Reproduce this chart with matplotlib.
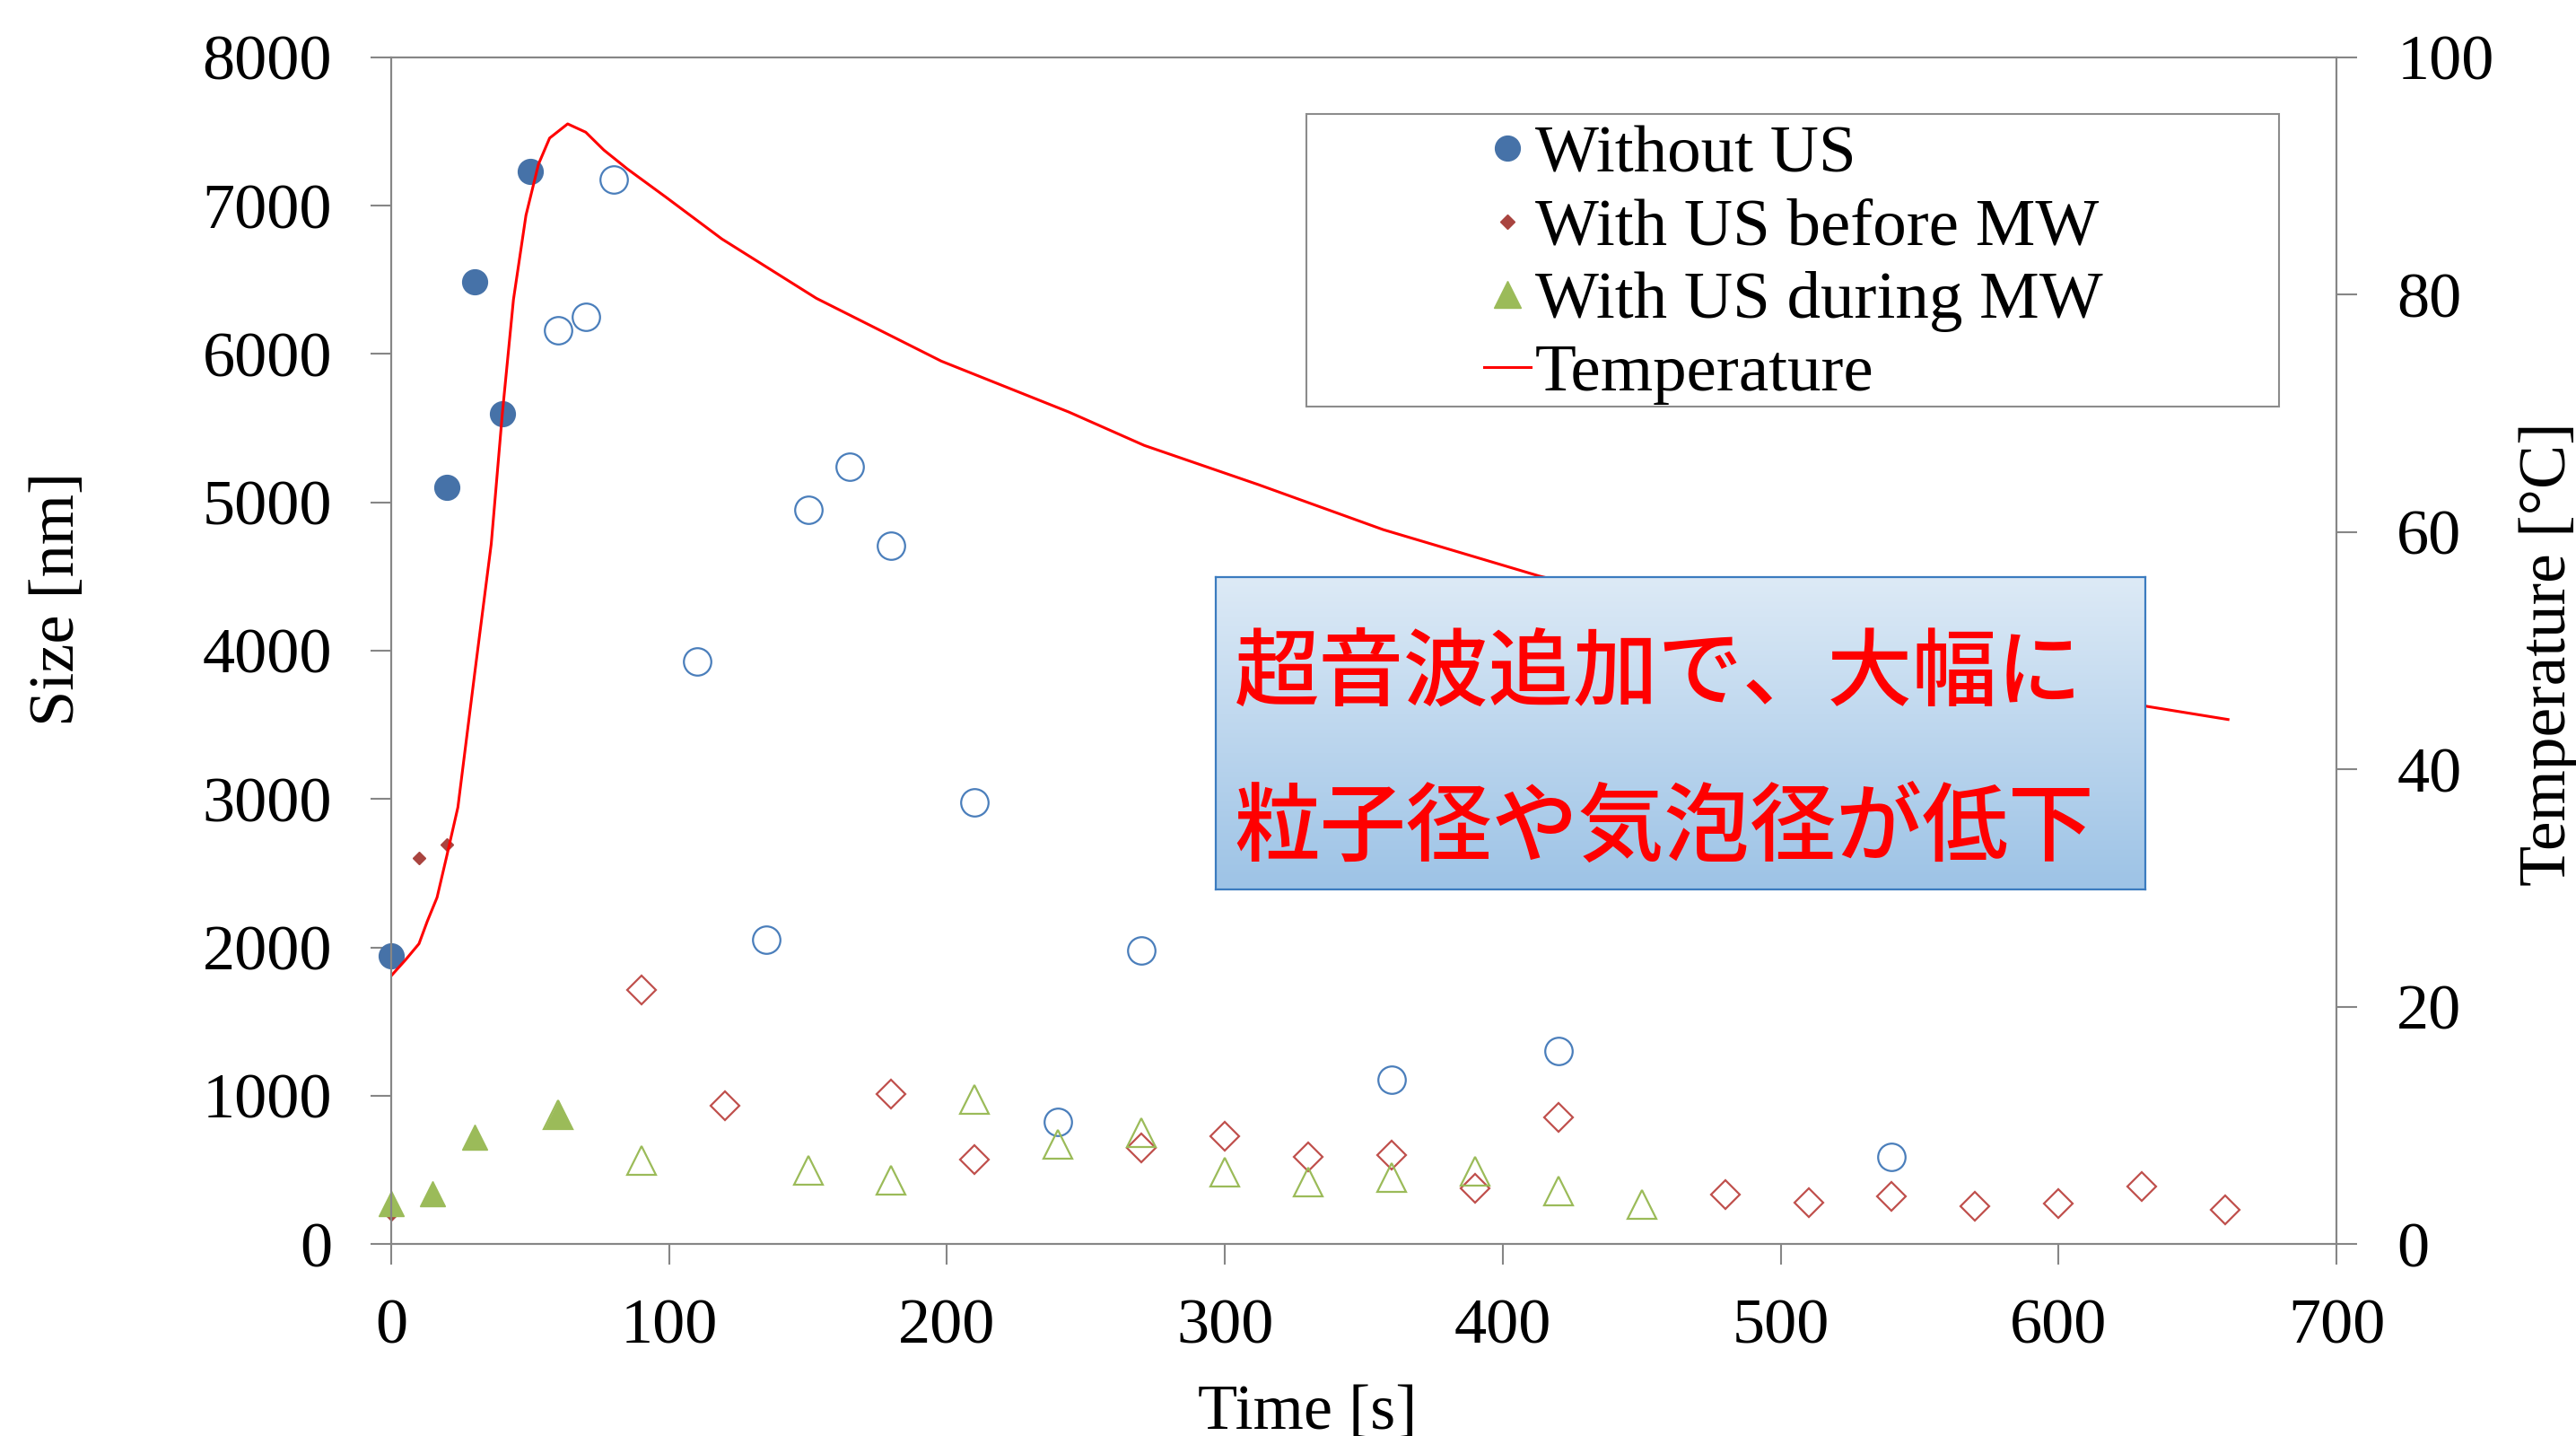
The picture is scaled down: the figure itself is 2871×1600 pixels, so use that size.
import numpy as np
import matplotlib
matplotlib.use("Agg")
import matplotlib.pyplot as plt
from matplotlib.lines import Line2D
from matplotlib.patches import Rectangle
from matplotlib.colors import LinearSegmentedColormap

plt.rcParams['font.family'] = ['Liberation Serif', 'DejaVu Serif']

# --- data ---
# Without US (filled = before MW, open = during/after MW)
without_us_t = [0, 20, 30, 40, 50]
without_us_size = [1940, 5100, 6490, 5600, 7230]
without_us_mw_t = [60, 70, 80, 110, 135, 150, 165, 180, 210, 240, 270, 360, 420, 540]
without_us_mw_size = [6160, 6250, 7180, 3930, 2050, 4950, 5240, 4710, 2980, 820, 1980, 1110, 1300, 590]

# With US before MW
before_t = [0, 10, 20]
before_size = [200, 2600, 2690]
before_mw_t = [90, 120, 180, 210, 270, 300, 330, 360, 390, 420, 480, 510, 540, 570, 600, 630, 660]
before_mw_size = [1710, 930, 1010, 570, 645, 725, 585, 600, 375, 855, 335, 280, 320, 255, 270, 385, 230]

# With US during MW
during_t = [0, 15, 30, 60]
during_size = [270, 340, 720, 870]
during_mw_t = [60, 90, 150, 180, 210, 240, 270, 300, 330, 360, 390, 420, 450]
during_mw_size = [870, 560, 495, 430, 975, 670, 750, 485, 420, 450, 490, 355, 265]

# Temperature curve
temp_t = [0, 5, 10, 13, 16.5, 20, 24, 30, 36, 40, 44, 48.5, 53, 57, 63.5, 70, 76.5, 85,
          99, 119, 153, 198, 244, 271, 312, 357, 413, 450, 500, 550, 600, 632, 661]
temp_c = [22.6, 23.9, 25.3, 27.2, 29.2, 32.7, 36.8, 48, 59, 70, 79.6, 86.7, 91, 93.2, 94.4, 93.7, 92.2, 90.6,
          88.2, 84.7, 79.7, 74.4, 70.1, 67.3, 64.0, 60.2, 56.3, 54.2, 51.6, 49.2, 47.0, 45.3, 44.2]

labels = ['Without US', 'With US before MW', 'With US during MW', 'Temperature']
note_lines = ['超音波追加で、大幅に', '粒子径や気泡径が低下']

# colours
blue_fill = '#4672A8'
blue_edge = '#4A7EBB'
red_fill = '#A9443F'
red_edge = '#C0504D'
green = '#9BBB59'
axis_grey = '#868686'

W, H = 2871, 1600
fig = plt.figure(figsize=(W / 100, H / 100), dpi=100)
ax = fig.add_axes([436 / W, 1 - 1386 / H, (2604 - 436) / W, (1386 - 64) / H])

# open markers first, filled on top
ax.plot(without_us_mw_t, without_us_mw_size, ls='none', marker='o', ms=22, mfc='none', mec=blue_edge, mew=1.6, clip_on=False)
ax.plot(before_mw_t, before_mw_size, ls='none', marker='D', ms=16, mfc='none', mec=red_edge, mew=1.6, clip_on=False)
ax.plot(during_mw_t, during_mw_size, ls='none', marker='^', ms=23, mfc='none', mec=green, mew=1.6, clip_on=False)
ax.plot(without_us_t, without_us_size, ls='none', marker='o', ms=20, mfc=blue_fill, mec=blue_fill, clip_on=False)
ax.plot(before_t, before_size, ls='none', marker='D', ms=7.5, mfc=red_fill, mec=red_fill, clip_on=False)
ax.plot(during_t, during_size, ls='none', marker='^', ms=20, mfc=green, mec=green, clip_on=False)

ax.set_xlim(0, 700)
ax.set_ylim(0, 8000)
ax.set_xticks(np.arange(0, 701, 100))
ax.set_yticks(np.arange(0, 8001, 1000))

ax2 = ax.twinx()
ax2.plot(temp_t, temp_c, color='red', lw=2.2)
ax2.set_ylim(0, 100)
ax2.set_yticks(np.arange(0, 101, 20))

for a in (ax, ax2):
    for s in a.spines.values():
        s.set_color(axis_grey)
        s.set_linewidth(1.5)
ax.tick_params(axis='x', direction='out', length=16.5, width=1.5, color=axis_grey, labelsize=52, pad=27)
ax.tick_params(axis='y', direction='out', length=16.5, width=1.5, color=axis_grey, labelsize=52, pad=31)
ax2.tick_params(axis='y', direction='out', length=16.5, width=1.5, color=axis_grey, labelsize=52, pad=32)

ax.set_xlabel('Time [s]', fontsize=52, va='baseline')
ax.xaxis.set_label_coords(0.471, -0.1558)
ax.set_ylabel('Size [nm]', fontsize=52)
ax.yaxis.set_label_coords(-0.1564, 0.5435)
ax2.set_ylabel('Temperature [°C]', fontsize=53, rotation=90, va='top', rotation_mode='anchor')
ax2.yaxis.set_label_coords(1.094, 0.497)

# legend: frame drawn separately so it can be wider than its content
frame = Rectangle((1456 / W, 1 - 453 / H), (2540 - 1456) / W, (453 - 127) / H,
                  transform=fig.transFigure, facecolor='white', edgecolor='#8C8C8C', lw=1.5, zorder=1)
fig.add_artist(frame)
handles = [
    Line2D([], [], ls='none', marker='o', ms=20, mfc=blue_fill, mec=blue_fill),
    Line2D([], [], ls='none', marker='D', ms=8, mfc=red_fill, mec=red_fill),
    Line2D([], [], ls='none', marker='^', ms=21, mfc=green, mec=green),
    Line2D([], [], color='red', lw=2.2),
]
fig.legend(handles, labels, loc='upper left', bbox_to_anchor=(1654 / W, 1 - 139 / H),
           frameon=False, borderpad=0, borderaxespad=0, handlelength=0.69, handletextpad=0.07,
           labelspacing=0.17, fontsize=54)

# gradient note box
bx = fig.add_axes([1355 / W, 1 - 991 / H, (2391 - 1355) / W, (991 - 643) / H])
grad = np.linspace(0, 1, 256).reshape(-1, 1)
cmap = LinearSegmentedColormap.from_list('note', ['#DDEAF6', '#9DC3E6'])
bx.imshow(grad, aspect='auto', cmap=cmap, extent=[0, 1, 0, 1], origin='upper')
bx.set_xlim(0, 1)
bx.set_ylim(0, 1)
bx.set_xticks([])
bx.set_yticks([])
for s in bx.spines.values():
    s.set_color('#3B7BBF')
    s.set_linewidth(1.6)
cjk = ['Noto Sans CJK JP', 'DejaVu Sans']
bx.text(0.020, 0.688, note_lines[0], color='red', fontsize=68, va='center', ha='left',
        family=cjk, weight='medium', transform=bx.transAxes)
bx.text(0.020, 0.190, note_lines[1], color='red', fontsize=69, va='center', ha='left',
        family=cjk, weight='medium', transform=bx.transAxes)

fig.savefig('out.png', dpi=100)
